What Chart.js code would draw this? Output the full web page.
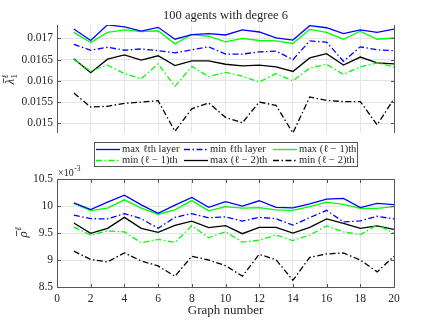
<!DOCTYPE html>
<html><head><meta charset="utf-8">
<script src="https://cdn.jsdelivr.net/npm/chart.js@4.4.1/dist/chart.umd.min.js"></script>
<style>
html,body{margin:0;padding:0;background:#fff;}
#wrap{position:relative;width:436px;height:327px;overflow:hidden;background:#fff;}
canvas{position:absolute;left:0;}
#c1{top:0;}
#c2{top:160px;}
</style></head><body>
<div id="wrap"><canvas id="c1" width="436" height="170"></canvas><canvas id="c2" width="436" height="167"></canvas></div>
<script>
// ---------- data ----------
const graphNumbers = [1,2,3,4,5,6,7,8,9,10,11,12,13,14,15,16,17,18,19,20];
const titleText = '100 agents with degree 6';
const xAxisTitle = 'Graph number';
const seriesLabels = ['max \u2113th layer','min \u2113th layer','max (\u2113 \u2212 1)th','min (\u2113 \u2212 1)th','max (\u2113 \u2212 2)th','min (\u2113 \u2212 2)th'];

// top panel: lambda-bar_1^l
const lamMaxL  = [0.01722,0.01695,0.01732,0.01727,0.01717,0.01726,0.01698,0.01709,0.01711,0.01708,0.0172,0.01715,0.01701,0.01696,0.0173,0.01725,0.01711,0.0172,0.01714,0.01722];
const lamMinL  = [0.01686,0.01672,0.01679,0.01672,0.01675,0.01671,0.01666,0.01673,0.0168,0.01663,0.01663,0.01668,0.0167,0.0165,0.01694,0.01691,0.01646,0.0168,0.01673,0.01671];
const lamMaxL1 = [0.01714,0.0169,0.01714,0.0172,0.01716,0.01718,0.01687,0.01709,0.01705,0.01692,0.017,0.01695,0.01694,0.01688,0.01721,0.01714,0.01698,0.01717,0.01698,0.01701];
const lamMinL1 = [0.0165,0.01623,0.01637,0.01617,0.01605,0.0164,0.01587,0.01634,0.0161,0.0162,0.01611,0.01597,0.01617,0.016,0.0163,0.01639,0.01615,0.01633,0.01642,0.01633];
const lamMaxL2 = [0.01652,0.01619,0.01651,0.01661,0.01649,0.01659,0.01636,0.01647,0.01647,0.01639,0.01635,0.01637,0.01633,0.01622,0.01654,0.01664,0.01637,0.01656,0.01642,0.0164];
const lamMinL2 = [0.01571,0.01538,0.0154,0.01547,0.0155,0.01553,0.01481,0.01534,0.01548,0.01514,0.01501,0.0155,0.01542,0.01477,0.01562,0.01554,0.01551,0.01551,0.01496,0.01558];
const lamTicks = [0.015,0.0155,0.016,0.0165,0.017];
const lamRange = [0.01477,0.017315];

// bottom panel: rho-bar^l  (x 10^-3)
const rhoMaxL  = [10.058,9.934,10.07,10.2,10.02,9.866,10.015,10.157,9.975,10.08,9.997,10.097,9.975,9.965,10.04,10.127,10.14,9.97,10.05,10.025];
const rhoMinL  = [9.829,9.766,9.76,9.86,9.766,9.587,9.79,9.86,9.78,9.8,9.72,9.79,9.765,9.645,9.785,9.92,9.705,9.725,9.81,9.76];
const rhoMaxL1 = [10.05,9.915,9.96,10.114,9.96,9.848,9.93,10.1,9.91,9.99,9.96,9.97,9.93,9.92,9.99,10.07,10.03,9.955,9.955,9.99];
const rhoMinL1 = [9.61,9.462,9.537,9.52,9.32,9.382,9.326,9.635,9.412,9.524,9.33,9.366,9.462,9.36,9.462,9.63,9.52,9.47,9.65,9.494];
const rhoMaxL2 = [9.686,9.494,9.587,9.79,9.587,9.512,9.64,9.72,9.6,9.635,9.487,9.605,9.605,9.5,9.605,9.76,9.68,9.587,9.63,9.568];
const rhoMinL2 = [9.164,9.01,8.965,9.132,8.983,8.89,8.698,9.07,9.0,8.895,8.702,9.105,9.005,8.624,9.05,9.112,9.13,9.0,8.78,9.07];
const rhoTicks = [8.5,9,9.5,10,10.5];
const rhoRange = [8.5,10.5];
const xTicks = [0,2,4,6,8,10,12,14,16,18,20];

// ---------- styles ----------
const SERIF = '"Liberation Serif", "DejaVu Serif", serif';
const DD = [6,2.5,1.5,2.5];
const colors = ['#0000ff','#0000ff','#00ff00','#00ff00','#000000','#000000'];
const dashes = [[],DD,[],DD,[],DD];
const TXT = '#262626';
const GRID = '#e4e4e4';
const AXIS = '#555555';

Chart.defaults.font.family = SERIF;
Chart.defaults.color = TXT;

function mkDatasets(arrs){
  return arrs.map((a,i)=>({
    label: seriesLabels[i],
    data: graphNumbers.map((g,k)=>({x:g, y:a[k]})),
    borderColor: colors[i], backgroundColor: colors[i],
    borderDash: dashes[i], borderWidth: 1.3,
    pointRadius: 0, tension: 0, fill: false
  }));
}

const px = v => Math.round(v) + 0.5;

function framePlugin(full){
  return {
    id: 'frame',
    afterDatasetsDraw(chart){
      const ctx = chart.ctx, a = chart.chartArea;
      const ys = chart.scales.y, xs = chart.scales.x;
      ctx.save();
      ctx.strokeStyle = AXIS; ctx.lineWidth = 1; ctx.setLineDash([]);
      const L = px(a.left), R = px(a.right), T = px(a.top), B = px(a.bottom);
      ctx.beginPath();
      if (full) { ctx.rect(L, T, R - L, B - T); }
      else { ctx.moveTo(L, a.top); ctx.lineTo(L, a.bottom); ctx.moveTo(R, a.top); ctx.lineTo(R, a.bottom); }
      ctx.stroke();
      // inward ticks
      ctx.beginPath();
      ys.ticks.forEach(t => { const y = px(ys.getPixelForValue(t.value));
        ctx.moveTo(L, y); ctx.lineTo(L + 3.5, y); ctx.moveTo(R, y); ctx.lineTo(R - 3.5, y); });
      if (full) xs.ticks.forEach(t => { const x = px(xs.getPixelForValue(t.value));
        ctx.moveTo(x, B); ctx.lineTo(x, B - 3.5); ctx.moveTo(x, T); ctx.lineTo(x, T + 3.5); });
      ctx.stroke();
      ctx.restore();
    }
  };
}

// math-ish label with overbar, drawn rotated
function drawBarLabel(ctx, cx, cy, base, sub, sup){
  ctx.save();
  ctx.translate(cx, cy); ctx.rotate(-Math.PI/2);
  ctx.fillStyle = TXT; ctx.strokeStyle = TXT; ctx.textBaseline = 'alphabetic';
  const fBase = 'italic 13px ' + SERIF, fSmall = '9px ' + SERIF, fSmallI = 'italic 9px ' + SERIF;
  ctx.font = fBase; const wb = ctx.measureText(base).width;
  ctx.font = fSmall; const ws = sub ? ctx.measureText(sub).width : 0;
  ctx.font = fSmallI; const wp = sup ? ctx.measureText(sup).width : 0;
  const w = wb + Math.max(ws, wp) + 1;
  const x0 = -w/2, bl = 4;
  ctx.font = fBase; ctx.fillText(base, x0, bl);
  ctx.lineWidth = 0.8; ctx.beginPath(); ctx.moveTo(x0 + 1.5, bl - 10.5); ctx.lineTo(x0 + wb + 0.5, bl - 10.5); ctx.stroke();
  if (sub){ ctx.font = fSmall; ctx.fillText(sub, x0 + wb + 0.5, bl + 3); }
  if (sup){ ctx.font = fSmallI; ctx.fillText(sup, x0 + wb + 0.5, bl - 6); }
  ctx.restore();
}

const topDecor = {
  id: 'topDecor',
  afterDraw(chart){
    const ctx = chart.ctx, a = chart.chartArea;
    ctx.save();
    // title
    ctx.font = '12.5px ' + SERIF; ctx.fillStyle = TXT; ctx.textAlign = 'center'; ctx.textBaseline = 'alphabetic';
    ctx.fillText(titleText, (a.left + a.right)/2, 19);
    ctx.restore();
    drawBarLabel(ctx, 10, 79, '\u03bb', '1', '\u2113');
    // legend box
    ctx.save();
    ctx.fillStyle = '#ffffff'; ctx.fillRect(94.5, 142.5, 263, 24);
    ctx.strokeStyle = AXIS; ctx.lineWidth = 1; ctx.strokeRect(94.5, 142.5, 263, 24);
    const colX = [96, 184, 273], rowY = [149, 160];
    chart.data.datasets.forEach((ds, i) => {
      const r = Math.floor(i / 3), c = i % 3;
      const x = colX[c], y = rowY[r];
      ctx.strokeStyle = ds.borderColor; ctx.lineWidth = 1.3; ctx.setLineDash(ds.borderDash || []);
      ctx.beginPath(); ctx.moveTo(x, y + 0.5); ctx.lineTo(x + 24, y + 0.5); ctx.stroke();
      ctx.setLineDash([]);
      ctx.font = '10.5px ' + SERIF; ctx.fillStyle = TXT; ctx.textAlign = 'left'; ctx.textBaseline = 'middle';
      ctx.fillText(ds.label, x + 26, y + 0.5);
    });
    ctx.restore();
  }
};

const botDecor = {
  id: 'botDecor',
  afterDraw(chart){
    const ctx = chart.ctx, a = chart.chartArea;
    ctx.save();
    ctx.fillStyle = TXT; ctx.textBaseline = 'alphabetic'; ctx.textAlign = 'left';
    ctx.font = '10px ' + SERIF; ctx.fillText('\u00d710', 58, 15.5);
    const w = ctx.measureText('\u00d710').width;
    ctx.font = '7.5px ' + SERIF; ctx.fillText('-3', 58 + w + 0.5, 10.5);
    ctx.font = '13px ' + SERIF; ctx.textAlign = 'center';
    ctx.fillText(xAxisTitle, (a.left + a.right)/2, 154);
    ctx.restore();
    drawBarLabel(ctx, 23, 72, '\u03c1', null, '\u2113');
  }
};

const tickFont = { family: SERIF, size: 11.5 };
const fmt = v => String(+Number(v).toPrecision(6));

function xScale(showTicks){
  return {
    type: 'linear', min: 0, max: 20,
    ticks: { display: showTicks, stepSize: 2, font: tickFont, color: TXT, padding: 5, maxRotation: 0, autoSkip: false, callback: fmt },
    afterBuildTicks: s => { s.ticks = xTicks.map(v => ({ value: v })); },
    grid: { color: GRID, drawTicks: false, lineWidth: 1 },
    border: { display: false },
    afterFit: s => { s.height = showTicks ? 40 : 0; }
  };
}
function yScale(range, ticks){
  return {
    type: 'linear', min: range[0], max: range[1],
    ticks: { font: tickFont, color: TXT, padding: 4, callback: fmt },
    afterBuildTicks: s => { s.ticks = ticks.map(v => ({ value: v })); },
    grid: { color: GRID, drawTicks: false, lineWidth: 1 },
    border: { display: false },
    afterFit: s => { s.width = 57; }
  };
}

const common = {
  responsive: false, animation: false, devicePixelRatio: 1,
  plugins: { legend: { display: false }, title: { display: false }, tooltip: { enabled: false } },
  events: []
};

new Chart(document.getElementById('c1'), {
  type: 'line',
  data: { datasets: mkDatasets([lamMaxL, lamMinL, lamMaxL1, lamMinL1, lamMaxL2, lamMinL2]) },
  options: Object.assign({}, common, {
    layout: { padding: { left: 0, right: 42, top: 25, bottom: 37 } },
    scales: { x: xScale(false), y: yScale(lamRange, lamTicks) }
  }),
  plugins: [framePlugin(false), topDecor]
});

new Chart(document.getElementById('c2'), {
  type: 'line',
  data: { datasets: mkDatasets([rhoMaxL, rhoMinL, rhoMaxL1, rhoMinL1, rhoMaxL2, rhoMinL2]) },
  options: Object.assign({}, common, {
    layout: { padding: { left: 0, right: 42, top: 19, bottom: 0 } },
    scales: { x: xScale(true), y: yScale(rhoRange, rhoTicks) }
  }),
  plugins: [framePlugin(true), botDecor]
});
</script>
</body></html>
